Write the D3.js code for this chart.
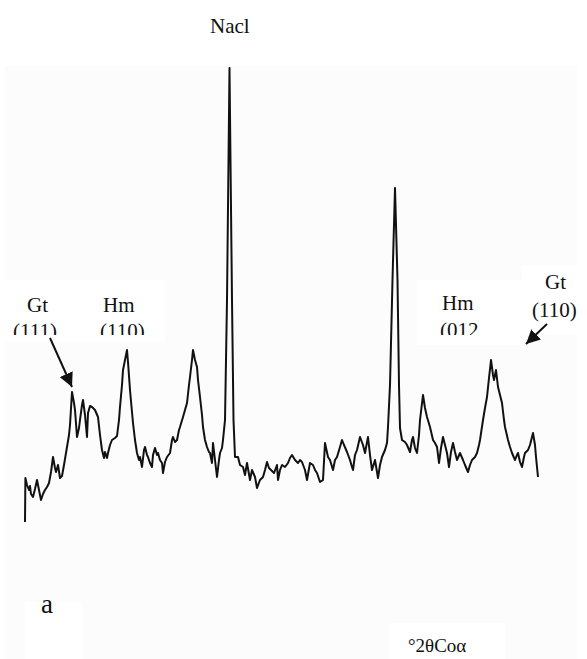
<!DOCTYPE html>
<html>
<head>
<meta charset="utf-8">
<script src="https://cdnjs.cloudflare.com/ajax/libs/d3/7.8.5/d3.min.js"></script>
<style>
  html, body { margin: 0; padding: 0; background: #ffffff; }
  svg { display: block; }
</style>
</head>
<body>
<svg id="chart" width="587" height="659"></svg>
<script>
// X-ray diffraction pattern, Co Kα radiation, 2θ in degrees (descending left to right)
const twoTheta = [
  48.00, 47.98, 47.90, 47.80, 47.75, 47.70, 47.60, 47.50, 47.40, 47.30,
  47.20, 47.10, 47.00, 46.90, 46.80, 46.70, 46.60, 46.50, 46.45, 46.35,
  46.25, 46.15, 46.05, 45.90, 45.80, 45.75, 45.65, 45.55, 45.50, 45.40,
  45.30, 45.25, 45.15, 45.10, 45.00, 44.90, 44.85, 44.75, 44.65, 44.50,
  44.35, 44.25, 44.15, 44.05, 44.00, 43.90, 43.85, 43.75, 43.65, 43.50,
  43.40, 43.30, 43.25, 43.15, 43.10, 43.00, 42.90, 42.85, 42.75, 42.65,
  42.60, 42.50, 42.40, 42.30, 42.25, 42.15, 42.05, 42.00, 41.90, 41.85,
  41.75, 41.65, 41.60, 41.50, 41.40, 41.35, 41.25, 41.15, 41.10, 41.00,
  40.90, 40.75, 40.65, 40.60, 40.50, 40.40, 40.30, 40.25, 40.10, 40.00,
  39.90, 39.80, 39.75, 39.65, 39.60, 39.50, 39.40, 39.35, 39.25, 39.15,
  39.10, 39.00, 38.90, 38.80, 38.75, 38.65, 38.60, 38.50, 38.40, 38.30,
  38.25, 38.15, 38.10, 38.00, 37.90, 37.775, 37.65, 37.575, 37.50, 37.35,
  37.25, 37.10, 37.00, 36.90, 36.75, 36.65, 36.50, 36.40, 36.25, 36.10,
  36.00, 35.90, 35.80, 35.70, 35.55, 35.40, 35.35, 35.25, 35.15, 35.00,
  34.85, 34.75, 34.65, 34.50, 34.35, 34.25, 34.15, 34.00, 33.90, 33.75,
  33.60, 33.50, 33.40, 33.25, 33.10, 33.00, 32.85, 32.75, 32.60, 32.50,
  32.40, 32.25, 32.15, 32.05, 31.90, 31.75, 31.65, 31.60, 31.50, 31.40,
  31.25, 31.10, 31.00, 30.85, 30.75, 30.65, 30.50, 30.35, 30.25, 30.15,
  30.00, 29.90, 29.85, 29.75, 29.625, 29.50, 29.375, 29.30, 29.25, 29.15,
  29.00, 28.90, 28.75, 28.65, 28.60, 28.50, 28.40, 28.30, 28.25, 28.10,
  28.00, 27.90, 27.75, 27.60, 27.50, 27.40, 27.30, 27.20, 27.10, 27.00,
  26.90, 26.80, 26.70, 26.60, 26.50, 26.40, 26.25, 26.10, 26.00, 25.85,
  25.75, 25.65, 25.50, 25.40, 25.30, 25.25, 25.10, 25.00, 24.90, 24.80,
  24.70, 24.60, 24.55, 24.45, 24.35, 24.25, 24.15, 24.05, 24.00, 23.85,
  23.75, 23.65, 23.50, 23.40, 23.35, 23.25, 23.15, 23.05, 23.00, 22.85,
  22.75, 22.60, 22.50, 22.45, 22.35
];

// Relative intensity (arbitrary units)
const intensity = [
    8,  52,  45,  40,  44,  36,  33,  41,  50,  40,
   30,  36,  40,  43,  47,  58,  73,  62,  58,  65,
   52,  54,  65,  83,  95, 105, 138, 127, 120,  93,
  102, 110, 125, 130, 115,  93, 117, 124, 123, 120,
  113,  95,  80,  72,  78,  72,  77,  85,  90,  92,
   94, 110, 123, 145, 160, 170, 180, 168, 140, 118,
  107,  90,  77,  70,  73,  63,  80,  83,  75,  73,
   67,  63,  75,  82,  75,  77,  70,  67,  57,  68,
   73,  77,  90,  93,  88,  90, 100, 103, 113, 120,
  127, 145, 153, 170, 180, 170, 163, 150, 133, 115,
  103,  90,  83,  78,  77,  67,  87,  70,  53,  70,
   77,  82,  90, 110, 230, 462, 230, 110,  73,  73,
   65,  63,  55,  67,  50,  60,  53,  42,  50,  53,
   60,  68,  62,  60,  57,  65,  50,  60,  65,  63,
   67,  72,  75,  70,  67,  70,  68,  60,  50,  67,
   65,  60,  57,  48,  50,  87,  73,  70,  60,  70,
   73,  83,  90,  85,  78,  70,  63,  60,  75,  80,
   93,  85,  77,  93,  75,  60,  70,  52,  65,  73,
   80,  87, 103, 145, 250, 342, 250, 145, 102,  90,
   88,  85,  78,  90,  93,  82,  77,  95, 110, 135,
  122, 113, 103,  90,  87,  83,  67,  82,  93,  85,
   77,  63,  78,  87,  78,  70,  77,  70,  65,  58,
   65,  70,  73,  77,  85,  90, 110, 122, 133, 152,
  170, 155, 150, 160, 143, 135, 127, 110, 103,  90,
   83,  77,  70,  75,  77,  68,  63,  73,  77,  80,
   85,  97,  85,  73,  53
];

// Peak annotations: phase and Miller indices
const peakNames   = ["Gt", "Hm", "Hm", "Gt"];
const peakIndices = ["(111)", "(110)", "(012", "(110)"];
const saltLabel = "Nacl";
const panelLabel = "a";
const axisLabel = "°2θCoα";

const data = twoTheta.map((t, i) => ({ t, v: intensity[i] }));

const SERIF = "'Liberation Serif', 'Times New Roman', Times, 'DejaVu Serif', serif";
const svg = d3.select("#chart");
const W = 587, H = 659;

const x = d3.scaleLinear().domain([48, 22]).range([25, 545]);
const y = d3.scaleLinear().domain([0, 500]).range([530, 30]);

// faint paper tone of the recorder chart
svg.append("rect").attr("x", 5).attr("y", 66).attr("width", 572).attr("height", H - 66)
  .attr("fill", "#fcfcfc");

// white label patches
const patches = [
  [5, 280, 160, 62], [417, 280, 105, 65], [522, 265, 65, 70],
  [25, 602, 57, 57], [390, 623, 115, 36]
];
svg.selectAll("rect.patch").data(patches).join("rect")
  .attr("class", "patch")
  .attr("x", d => d[0]).attr("y", d => d[1])
  .attr("width", d => d[2]).attr("height", d => d[3])
  .attr("fill", "#ffffff");

// diffraction trace
const line = d3.line().x(d => x(d.t)).y(d => y(d.v)).curve(d3.curveLinear);
svg.append("path").datum(data)
  .attr("d", line)
  .attr("fill", "none")
  .attr("stroke", "#111")
  .attr("stroke-width", 2)
  .attr("stroke-linejoin", "round");

// clip for the partly hidden index labels
const defs = svg.append("defs");
defs.append("clipPath").attr("id", "labelClip")
  .append("rect").attr("x", 0).attr("y", 0).attr("width", W).attr("height", 335);

defs.append("marker").attr("id", "head")
  .attr("viewBox", "0 0 10 10").attr("refX", 10).attr("refY", 5)
  .attr("markerWidth", 7).attr("markerHeight", 7)
  .attr("markerUnits", "strokeWidth")
  .attr("orient", "auto")
  .append("path").attr("d", "M0,0 L10,5 L0,10 Z").attr("fill", "#111");

const txt = (xp, yp, size, s) => svg.append("text")
  .attr("x", xp).attr("y", yp)
  .attr("font-family", SERIF).attr("font-size", size)
  .attr("fill", "#111").text(s);

// NaCl label above the tallest reflection
txt(210, 33, 21, saltLabel);

// phase labels
const labelPos = [
  { nx: 27, ny: 312, ix: 13, iy: 338, clip: true },
  { nx: 103, ny: 312, ix: 100, iy: 338, clip: true },
  { nx: 442, ny: 310, ix: 440, iy: 337, clip: true },
  { nx: 545, ny: 289, ix: 532, iy: 317, clip: false }
];
labelPos.forEach((p, i) => {
  txt(p.nx, p.ny, 21, peakNames[i]);
  const t = txt(p.ix, p.iy, 21, peakIndices[i]);
  if (p.clip) t.attr("clip-path", "url(#labelClip)");
});

// pointer arrows
const arrows = [[50, 338, 72, 387], [547, 324, 526, 344]];
svg.selectAll("line.arrow").data(arrows).join("line")
  .attr("class", "arrow")
  .attr("x1", d => d[0]).attr("y1", d => d[1])
  .attr("x2", d => d[2]).attr("y2", d => d[3])
  .attr("stroke", "#111").attr("stroke-width", 2)
  .attr("marker-end", "url(#head)");

// panel letter and axis caption
txt(41, 613, 27, panelLabel);
txt(408, 652, 19, axisLabel);
</script>
</body>
</html>
